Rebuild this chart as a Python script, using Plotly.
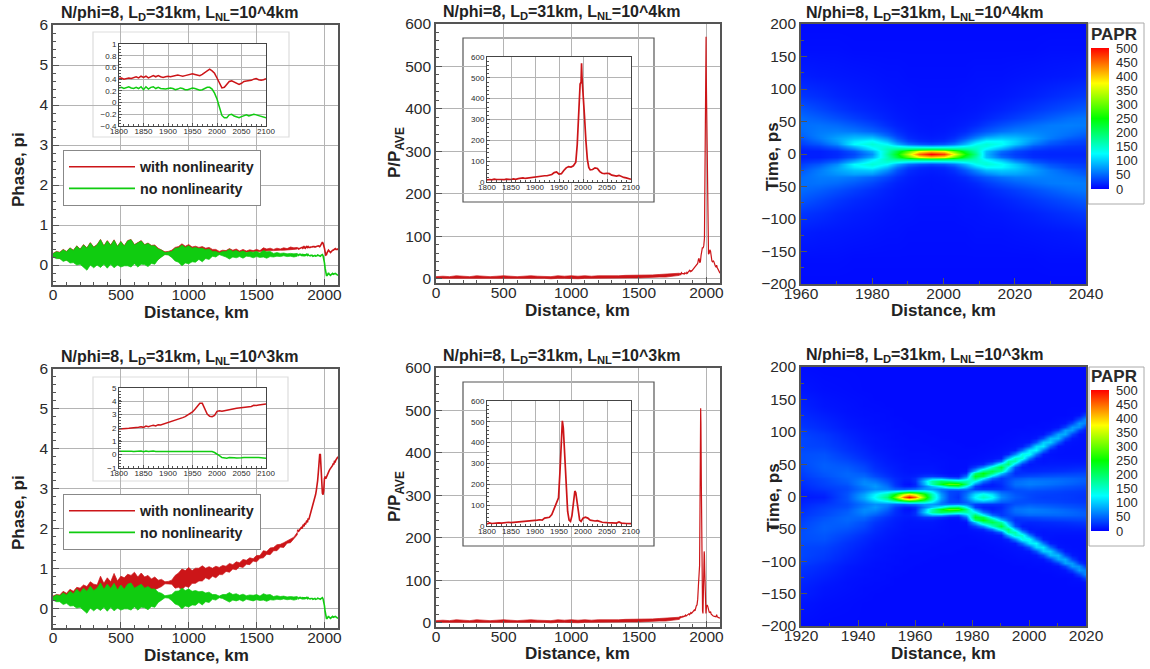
import plotly.graph_objects as go

W, H = 1150, 669
RED = "#cc1518"
GREEN = "#10cc10"
FONT = "Liberation Sans"
FRAME = "#555555"
GRID = "#b4b4b4"
TXT = "#2a2a2a"

# ---------- noisy part of the phase curves, 0-1800 km every 25 km ----------
band_x = [i * 25 for i in range(73)]
green_hi = [.28,.33,.31,.38,.33,.42,.36,.47,.39,.50,.42,.55,.44,.50,.63,.47,.60,.49,.62,.46,.58,.47,.60,.63,.50,.54,.60,.50,.54,.48,.48,.40,.37,.31,.33,.34,.42,.43,.50,.44,.48,.42,.44,.41,.42,.38,.40,.34,.34,.30,.34,.34,.39,.34,.36,.32,.35,.31,.33,.32,.34,.30,.36,.33,.34,.29,.31,.29,.30,.28,.29,.28,.29]
green_lo = [.20,.16,.16,.09,.12,.05,.06,.0,.02,-.05,-.13,.0,-.07,.0,-.06,.02,-.08,.02,-.07,.0,-.05,-.02,-.02,-.05,.03,-.05,.02,.01,-.04,.04,.02,.14,.20,.26,.25,.19,.10,.07,-.02,.05,.03,.08,.07,.14,.08,.16,.14,.22,.20,.26,.24,.20,.15,.20,.18,.21,.17,.22,.21,.18,.21,.19,.20,.17,.21,.20,.22,.21,.23,.21,.22,.20,.22]
red4_hi = [.29,.34,.32,.39,.34,.43,.37,.48,.40,.51,.43,.56,.45,.51,.64,.48,.61,.50,.63,.47,.59,.48,.61,.64,.51,.55,.61,.51,.55,.49,.50,.42,.38,.33,.34,.37,.44,.46,.53,.47,.51,.45,.47,.44,.46,.42,.44,.39,.39,.34,.37,.36,.41,.37,.40,.35,.39,.35,.38,.36,.39,.36,.43,.40,.42,.39,.42,.40,.43,.41,.45,.43,.44]
red4_lo = [.20,.19,.16,.14,.12,.10,.08,.06,.04,.02,.02,.04,.02,.02,.04,.04,.02,.04,.04,.04,.04,.04,.06,.04,.06,.04,.06,.08,.04,.06,.08,.14,.22,.27,.26,.20,.15,.10,.06,.08,.10,.12,.14,.16,.15,.18,.20,.23,.26,.28,.28,.29,.30,.30,.31,.31,.32,.32,.33,.33,.34,.34,.35,.35,.36,.36,.36,.37,.37,.38,.38,.39,.40]
red3_hi = [.30,.34,.33,.42,.37,.47,.42,.52,.50,.58,.54,.66,.60,.58,.80,.62,.76,.66,.87,.68,.80,.76,.85,.82,.90,.78,.88,.78,.82,.73,.78,.70,.72,.66,.67,.70,.82,.88,.98,.94,1.02,.94,1.0,1.0,1.06,1.0,1.04,1.0,1.05,1.02,1.07,1.05,1.12,1.09,1.16,1.14,1.22,1.2,1.26,1.24,1.32,1.32,1.44,1.42,1.51,1.52,1.59,1.6,1.64,1.68,1.74,1.78,1.90]
red3_lo = [.20,.20,.22,.22,.24,.24,.26,.26,.28,.28,.30,.30,.32,.32,.34,.34,.36,.36,.38,.38,.40,.40,.42,.42,.44,.44,.44,.44,.46,.46,.46,.50,.54,.61,.60,.60,.50,.52,.46,.55,.52,.62,.62,.68,.68,.76,.72,.80,.76,.84,.84,.92,.90,.98,.96,1.04,1.02,1.10,1.09,1.18,1.16,1.25,1.26,1.35,1.34,1.44,1.44,1.53,1.52,1.63,1.64,1.74,1.84]

# ---------- phase curves 1800-2100 km (insets and main tails) ----------
tail_x = [1800 + i * 5 for i in range(61)]
red4_tail = [.41,.42,.40,.41,.42,.41,.43,.44,.42,.45,.43,.45,.42,.44,.46,.44,.46,.44,.43,.44,.45,.44,.45,.46,.47,.46,.45,.46,.47,.48,.49,.48,.47,.46,.48,.51,.55,.57,.54,.50,.42,.33,.25,.26,.31,.36,.37,.35,.32,.31,.33,.36,.37,.37,.38,.40,.41,.39,.38,.39,.41]
green_tail = [.25,.26,.24,.25,.27,.25,.24,.26,.24,.27,.22,.27,.23,.26,.27,.24,.26,.24,.23,.23,.24,.25,.24,.22,.23,.25,.24,.22,.22,.23,.25,.24,.22,.21,.22,.24,.26,.26,.23,.16,.06,-.08,-.22,-.26,-.26,-.21,-.20,-.23,-.25,-.26,-.24,-.22,-.21,-.23,-.22,-.20,-.21,-.22,-.24,-.25,-.26]
red3_tail = [1.92,1.95,1.93,1.97,1.98,2.0,2.02,2.0,2.06,2.1,2.05,2.14,2.1,2.16,2.2,2.15,2.25,2.22,2.28,2.35,2.4,2.45,2.5,2.55,2.62,2.7,2.78,2.85,2.95,3.05,3.2,3.4,3.65,3.85,3.85,3.45,3.05,2.88,2.85,2.95,3.25,3.3,3.25,3.3,3.35,3.4,3.42,3.45,3.48,3.5,3.53,3.55,3.58,3.62,3.62,3.7,3.68,3.72,3.75,3.78,3.8]

# ---------- peak-to-average power ----------
papr_band_x = [i * 50 for i in range(37)]
papr_hi = [5,6,5,7,6,5,7,6,5,6,7,6,5,6,7,6,6,5,7,6,7,6,7,6,7,7,6,7,8,8,8,8,9,10,11,11,13]
papr_lo = [1,0,1,0,1,1,0,1,0,1,1,0,1,1,0,1,1,0,1,1,1,0,1,1,1,1,1,2,2,2,2,3,3,4,4,6,8]
papr4_x = [1800,1805,1810,1815,1820,1825,1830,1835,1840,1845,1850,1855,1860,1865,1870,1875,1880,1885,1890,1895,1900,1905,1910,1915,1920,1925,1930,1935,1940,1945,1950,1955,1960,1965,1970,1975,1980,1985,1988,1991,1994,1996,1997,1998,2000,2003,2006,2009,2012,2015,2020,2025,2030,2035,2040,2045,2050,2055,2060,2065,2070,2075,2080,2085,2090,2095,2100]
papr4_y = [10,12,10,14,12,13,12,11,14,13,12,15,13,16,18,20,17,19,18,20,22,24,26,28,30,30,32,36,45,48,38,40,55,68,74,72,78,95,180,330,470,480,570,500,440,320,200,110,70,58,60,68,65,50,42,40,42,40,33,30,28,32,26,22,20,16,13]
papr3_x = [1800,1805,1810,1815,1820,1825,1830,1835,1840,1845,1850,1855,1860,1865,1870,1875,1880,1885,1890,1895,1900,1905,1910,1915,1920,1925,1930,1935,1940,1943,1946,1949,1952,1955,1957,1959,1962,1965,1968,1971,1974,1977,1980,1983,1985,1987,1990,1993,1996,2000,2005,2010,2015,2020,2025,2030,2035,2040,2050,2060,2070,2075,2080,2090,2100]
papr3_y = [10,15,12,14,13,15,14,16,15,18,16,17,18,20,21,19,22,24,22,24,26,28,30,28,38,40,42,55,85,100,115,135,260,470,505,470,330,170,70,28,22,50,115,168,160,125,60,28,22,38,42,38,28,25,24,26,20,18,16,15,14,19,14,12,11]

# ---------- PAPR maps: rows are y >= 0, mirrored for y < 0 ----------
map4_x = [1960,1965,1970,1975,1980,1984,1987,1990,1993,1996.5,2000,2003,2006,2009,2012,2016,2020,2025,2030,2035,2040]
map4_t = [0,4,8,12,16,20,25,30,36,44,55,70,90,120,160,200]
map4_rows = [
 [15,15,20,35,70,170,240,340,450,500,470,370,260,180,90,45,30,20,18,18,18],
 [15,15,22,42,85,160,220,290,370,400,380,300,225,165,95,55,35,22,20,20,20],
 [18,22,34,65,115,160,178,192,205,210,205,192,178,155,120,85,52,32,24,22,22],
 [24,32,52,95,135,145,130,110,100,95,100,110,128,145,140,115,78,44,32,26,24],
 [30,42,68,125,145,125,85,55,42,36,42,58,90,130,145,130,100,60,40,32,28],
 [35,52,78,115,130,95,58,32,22,18,22,34,64,100,125,125,105,72,48,36,32],
 [42,60,80,95,100,70,40,22,16,14,16,24,42,68,92,100,95,78,60,46,38],
 [48,62,72,80,75,48,30,18,14,12,14,18,30,48,64,80,80,72,62,54,44],
 [52,60,62,58,48,34,22,15,12,11,12,15,20,32,42,54,62,64,62,58,52],
 [54,56,52,44,34,22,16,13,11,10,11,12,15,20,28,38,46,54,60,62,60],
 [52,46,38,30,22,16,13,11,10,10,10,11,12,14,18,24,30,38,46,54,58],
 [42,34,26,20,16,13,11,10,9,9,9,9,10,11,13,16,20,26,32,38,44],
 [26,22,17,14,12,10,9,9,8,8,8,8,9,9,10,11,13,16,20,24,28],
 [14,12,11,10,9,8,8,7,7,7,7,7,7,8,8,8,9,10,11,12,14],
 [7,7,7,6,6,6,6,6,6,6,6,6,6,6,6,6,6,6,7,7,7],
 [5,5,5,5,5,5,5,5,5,5,5,5,5,5,5,5,5,5,5,5,5],
]
map3_x = [1920,1928,1936,1942,1946,1950,1953,1956,1958,1960,1963,1966,1969,1972,1975,1978,1981,1984,1987,1990,1992.5,1995,1997.5,2000,2002.5,2005,2007.5,2010,2012.5,2015,2017.5,2020]
map3_t = [0,4,8,12,16,20,24,28,32,36,40,45,50,55,60,66,72,78,84,90,96,102,108,114,120,126,132,140,150,165,200]
map3_cols = [
 [12,14,16,18,20,22,24,26,28,30,32,34,36,38,38,38,36,34,34,34,32,30,26,24,22,20,18,16,14,10,6],
 [15,18,22,26,30,32,34,36,40,42,44,46,46,44,42,40,36,32,30,28,26,22,20,18,16,14,12,10,9,7,5],
 [40,40,38,36,38,42,46,48,50,50,48,44,40,36,32,28,24,22,20,18,16,14,12,11,10,9,8,8,7,6,5],
 [85,80,65,58,62,68,66,58,50,44,38,34,30,26,22,19,17,15,13,12,11,10,9,8,8,7,7,6,6,5,5],
 [130,120,90,70,75,70,58,46,36,30,26,22,20,18,16,14,12,11,10,10,9,8,8,7,7,7,6,6,5,5,5],
 [190,165,105,65,55,48,38,30,24,20,18,16,14,13,12,11,10,9,9,8,8,7,7,7,6,6,6,5,5,5,5],
 [300,245,120,50,30,25,22,20,17,15,14,13,12,11,10,9,9,8,8,7,7,7,6,6,6,5,5,5,5,5,5],
 [450,350,150,45,15,10,12,14,13,12,11,10,10,9,9,8,8,7,7,7,6,6,6,6,5,5,5,5,5,5,5],
 [500,385,165,50,14,8,12,14,13,11,10,10,9,9,8,8,7,7,7,6,6,6,6,5,5,5,5,5,5,5,5],
 [450,350,160,55,22,18,22,22,15,12,11,10,9,9,8,8,7,7,7,6,6,6,5,5,5,5,5,5,5,5,5],
 [300,260,150,75,60,85,95,60,25,14,11,10,9,9,8,8,7,7,6,6,6,5,5,5,5,5,5,5,5,5,5],
 [170,160,115,75,95,165,170,85,28,14,11,10,9,8,8,7,7,6,6,6,5,5,5,5,5,5,5,5,5,5,5],
 [80,75,60,60,130,235,205,80,22,10,9,8,8,8,7,7,6,6,6,5,5,5,5,5,5,5,5,5,5,5,5],
 [35,35,35,60,185,295,190,55,14,7,7,7,7,7,7,6,6,6,6,5,5,5,5,5,5,5,5,5,5,5,5],
 [25,28,32,65,205,285,165,45,13,8,7,7,7,7,6,6,6,6,5,5,5,5,5,5,5,5,5,5,5,5,5],
 [60,55,45,60,130,190,165,95,55,20,9,7,7,7,6,6,6,5,5,5,5,5,5,5,5,5,5,5,5,5,5],
 [125,110,70,30,30,70,130,205,235,190,95,30,12,8,7,6,6,5,5,5,5,5,5,5,5,5,5,5,5,5,5],
 [155,135,75,25,15,25,60,130,215,245,185,70,18,10,8,7,6,6,5,5,5,5,5,5,5,5,5,5,5,5,5],
 [130,110,65,25,14,14,25,55,110,190,215,150,60,18,10,8,7,6,6,5,5,5,5,5,5,5,5,5,5,5,5],
 [70,62,45,25,20,22,25,28,50,100,170,225,150,50,14,9,8,7,6,6,5,5,5,5,5,5,5,5,5,5,5],
 [55,52,42,32,35,38,38,35,38,50,80,125,195,170,85,18,10,8,7,6,6,5,5,5,5,5,5,5,5,5,5],
 [45,42,38,40,50,55,52,42,30,22,25,40,98,165,155,65,14,9,8,7,6,6,5,5,5,5,5,5,5,5,5],
 [40,38,38,42,52,58,56,46,32,24,20,14,30,80,145,135,55,14,9,8,7,6,5,5,5,5,5,5,5,5,5],
 [35,35,38,45,55,62,60,50,35,25,18,14,12,25,65,133,115,42,12,8,7,6,6,5,5,5,5,5,5,5,5],
 [32,33,36,43,52,60,59,50,36,26,19,15,13,12,18,60,125,108,40,12,8,7,6,5,5,5,5,5,5,5,5],
 [30,32,35,42,50,58,58,50,38,28,20,16,12,10,10,14,58,115,100,36,10,7,6,6,5,5,5,5,5,5,5],
 [30,31,34,40,48,55,57,50,39,29,21,16,13,11,10,9,14,52,103,90,32,10,7,6,5,5,5,5,5,5,5],
 [30,30,33,38,45,52,55,50,40,30,22,17,13,11,9,8,9,12,46,93,82,30,10,7,6,5,5,5,5,5,5],
 [29,29,31,36,42,49,52,49,40,31,23,17,13,11,9,8,8,9,12,38,85,80,32,10,7,5,5,5,5,5,5],
 [28,28,30,35,40,46,50,48,40,32,25,18,14,11,9,8,8,8,9,12,33,76,76,33,9,6,6,5,5,5,5],
 [26,27,29,33,38,43,47,46,40,33,26,19,14,11,9,8,8,8,8,9,10,30,70,75,34,9,6,5,5,5,5],
 [25,26,28,32,36,40,45,45,40,34,28,20,15,12,10,9,8,8,8,8,9,10,24,62,71,35,10,7,6,5,5],
]
assert all(len(c) == len(map3_t) for c in map3_cols) and len(map3_cols) == len(map3_x)
assert all(len(a) == len(band_x) for a in (green_hi, green_lo, red4_hi, red4_lo, red3_hi, red3_lo))

titles = ["N/phi=8, L<sub>D</sub>=31km, L<sub>NL</sub>=10^4km"] * 3 + ["N/phi=8, L<sub>D</sub>=31km, L<sub>NL</sub>=10^3km"] * 3
dist_ticks = [0, 500, 1000, 1500, 2000]
inset_ticks = [1800, 1850, 1900, 1950, 2000, 2050, 2100]
color_ticks = [0, 50, 100, 150, 200, 250, 300, 350, 400, 450, 500]
rainbow = [[0, "#0000ff"], [.25, "#00ffff"], [.5, "#00ff00"], [.75, "#ffff00"], [1, "#ff0000"]]

# pixel boxes: left, right, top, bottom
panels = {
 1: (53, 338, 25, 285), 2: (436, 720, 24, 283), 3: (801, 1086, 24, 284),
 4: (53, 338, 369, 628), 5: (436, 720, 368, 627), 6: (801, 1086, 367, 626),
 7: (119, 266, 44, 126), 8: (487, 631, 57, 182),
 9: (119, 266, 388, 468), 10: (487, 631, 401, 526),
}
inset_frames = {1: (93, 289, 32, 137, "#dddddd"), 2: (463, 654, 38, 202, "#555555"),
                4: (93, 288, 377, 481, "#dddddd"), 5: (463, 654, 382, 546, "#555555")}

fig = go.Figure()
layout = dict(width=W, height=H, margin=dict(l=0, r=0, t=0, b=0, autoexpand=False), paper_bgcolor="white",
              plot_bgcolor="white", font=dict(family=FONT, color=TXT), showlegend=True)


def axis_pair(n, xr, yr, xt, yt, xminor, yminor, size, inset=False, grid=True):
    l, r, t, b = panels[n]
    common = dict(showline=True, mirror=True, linecolor="#444444" if inset else FRAME,
                  linewidth=1 if inset else 1.6, ticks="inside", ticklen=3 if inset else 6,
                  tickcolor=FRAME, tickwidth=1, showgrid=grid, gridcolor=GRID, gridwidth=1,
                  zeroline=False, tickfont=dict(size=size, family=FONT, color=TXT))
    sx = "" if n == 1 else str(n)
    layout["xaxis" + sx] = dict(domain=[l / W, r / W], range=xr, tickvals=xt, anchor="y" + sx,
                                ticklabelstandoff=-3 if inset else -5,
                                minor=dict(ticks="inside", dtick=xminor, ticklen=3 if not inset else 2, tickcolor=FRAME, showgrid=False), **common)
    layout["yaxis" + sx] = dict(domain=[1 - b / H, 1 - t / H], range=yr, tickvals=yt, anchor="x" + sx,
                                minor=dict(ticks="inside", dtick=yminor, ticklen=3 if not inset else 2, tickcolor=FRAME, showgrid=False), **common)
    return ("x" + sx, "y" + sx)


def band(ref, x, hi, lo, color):
    fig.add_trace(go.Scatter(x=x + x[::-1], y=hi + lo[::-1], mode="lines", fill="toself", fillcolor=color,
                             line=dict(color=color, width=0.7), showlegend=False, hoverinfo="skip",
                             xaxis=ref[0], yaxis=ref[1]))


def line(ref, x, y, color, width, name=None, legend=None):
    fig.add_trace(go.Scatter(x=x, y=y, mode="lines", line=dict(color=color, width=width), name=name,
                             showlegend=name is not None, legend=legend, xaxis=ref[0], yaxis=ref[1]))


phase_y = [0, 1, 2, 3, 4, 5, 6]
papr_y = [0, 100, 200, 300, 400, 500, 600]

# phase panels
for n, hi, lo, tail, inset_n, inset_r, inset_t, lg in (
        (1, red4_hi, red4_lo, red4_tail, 7, [-.4, 1], [-.4, -.2, 0, .2, .4, .6, .8, 1], "legend"),
        (4, red3_hi, red3_lo, red3_tail, 9, [-1, 5], [-1, 0, 1, 2, 3, 4, 5], "legend2")):
    ref = axis_pair(n, [0, 2100], [-.5, 6], dist_ticks, phase_y, 100, .2, 15.5)
    band(ref, band_x, hi, lo, RED)
    line(ref, tail_x, tail, RED, 1.6, "with nonlinearity", lg)
    band(ref, band_x, green_hi, green_lo, GREEN)
    line(ref, tail_x, green_tail, GREEN, 1.6, "no nonlinearity", lg)
    iref = axis_pair(inset_n, [1800, 2100], inset_r, inset_ticks, inset_t, 10, (inset_r[1] - inset_r[0]) / 28, 8, inset=True)
    line(iref, tail_x, tail, RED, 1.5)
    line(iref, tail_x, green_tail, GREEN, 1.5)

# power panels
for n, px, py, inset_n in ((2, papr4_x, papr4_y, 8), (5, papr3_x, papr3_y, 10)):
    ref = axis_pair(n, [0, 2100], [-10, 600], dist_ticks, papr_y, 100, 20, 15.5)
    band(ref, papr_band_x, papr_hi, papr_lo, RED)
    line(ref, px, py, RED, 1.2)
    iref = axis_pair(inset_n, [1800, 2100], [0, 600], inset_ticks, papr_y, 10, 20, 8, inset=True)
    line(iref, px, py, RED, 1.7)


# maps
def add_map(n, x, t, rows, xr, xt, cb_bottom):
    ref = axis_pair(n, xr, [-200, 200], xt, [-200, -150, -100, -50, 0, 50, 100, 150, 200], (xt[1] - xt[0]) / 2, 25, 15.5, grid=False)
    tt = [-v for v in t[:0:-1]] + t
    zz = rows[:0:-1] + rows
    fig.add_trace(go.Heatmap(x=x, y=tt, z=zz, zmin=0, zmax=500, colorscale=rainbow, zsmooth="best",
                             xaxis=ref[0], yaxis=ref[1],
                             colorbar=dict(title=dict(text="<b>PAPR</b>", side="top", font=dict(size=17, family=FONT, color=TXT)),
                                           x=1091 / W, xanchor="left", xpad=0, y=1 - cb_bottom / H, yanchor="bottom", ypad=0,
                                           thickness=18, thicknessmode="pixels", len=165, lenmode="pixels",
                                           tickvals=color_ticks, ticks="outside", ticklen=5, tickcolor="rgba(0,0,0,0)",
                                           tickfont=dict(size=13, family=FONT, color=TXT),
                                           outlinewidth=0, borderwidth=0)))


add_map(3, map4_x, map4_t, map4_rows, [1960, 2040], [1960, 1980, 2000, 2020, 2040], 189)
add_map(6, map3_x, map3_t, [list(r) for r in zip(*map3_cols)], [1920, 2020], [1920, 1940, 1960, 1980, 2000, 2020], 531)

# inset backgrounds and colour-bar boxes
shapes = []
for n, (l, r, t, b, c) in inset_frames.items():
    sx = "" if n == 1 else str(n)
    pl, pr, pt, pb = panels[n]
    shapes.append(dict(type="rect", xref=f"x{sx} domain", yref=f"y{sx} domain", layer="below",
                       x0=(l - pl) / (pr - pl), x1=(r - pl) / (pr - pl),
                       y0=(pb - b) / (pb - pt), y1=(pb - t) / (pb - pt),
                       fillcolor="white", line=dict(color=c, width=1.2)))
for (l, r, t, b) in ((1088, 1144, 23, 204), (1089, 1144, 367, 546)):
    shapes.append(dict(type="rect", xref="paper", yref="paper", layer="below", x0=l / W, x1=r / W,
                       y0=1 - b / H, y1=1 - t / H, fillcolor="white", line=dict(color="#aaaaaa", width=1)))
layout["shapes"] = shapes

# text
annos = []
def text(s, px, py, size, bold=True, angle=0, anchor="center"):
    annos.append(dict(text=f"<b>{s}</b>" if bold else s, x=px / W, y=1 - py / H, xref="paper", yref="paper",
                      showarrow=False, textangle=angle, xanchor=anchor, yanchor="middle",
                      font=dict(size=size, family=FONT, color="#222222")))

for s, (px, py) in zip(titles, [(59, 13), (441, 12), (804, 13), (59, 357), (441, 356), (804, 355)]):
    text(s, px, py, 16, anchor="left")
for px, py in [(196, 312), (577, 310), (943, 310), (196, 655), (577, 653), (943, 653)]:
    text("Distance, km", px, py, 17)
for s, px, py in [("Phase, pi", 18, 170), ("P/P<sub>AVE</sub>", 396, 153), ("Time, ps", 773, 157),
                  ("Phase, pi", 18, 513), ("P/P<sub>AVE</sub>", 396, 497), ("Time, ps", 773, 498)]:
    text(s, px, py, 17, angle=-90)
layout["annotations"] = annos

legend_style = dict(xanchor="left", yanchor="top", bgcolor="white", bordercolor="#888888", borderwidth=1,
                    itemwidth=66, font=dict(size=14.3, family=FONT, color="#222222", weight="bold"),
                    tracegroupgap=0, x=63 / W)
layout["legend"] = dict(y=1 - 150 / H, **legend_style)
layout["legend2"] = dict(y=1 - 494 / H, **legend_style)

fig.update_layout(**layout)
fig.write_html("out.html", config=dict(displayModeBar=False),
               post_script="document.body.style.margin='0';document.documentElement.style.overflow='hidden';")
